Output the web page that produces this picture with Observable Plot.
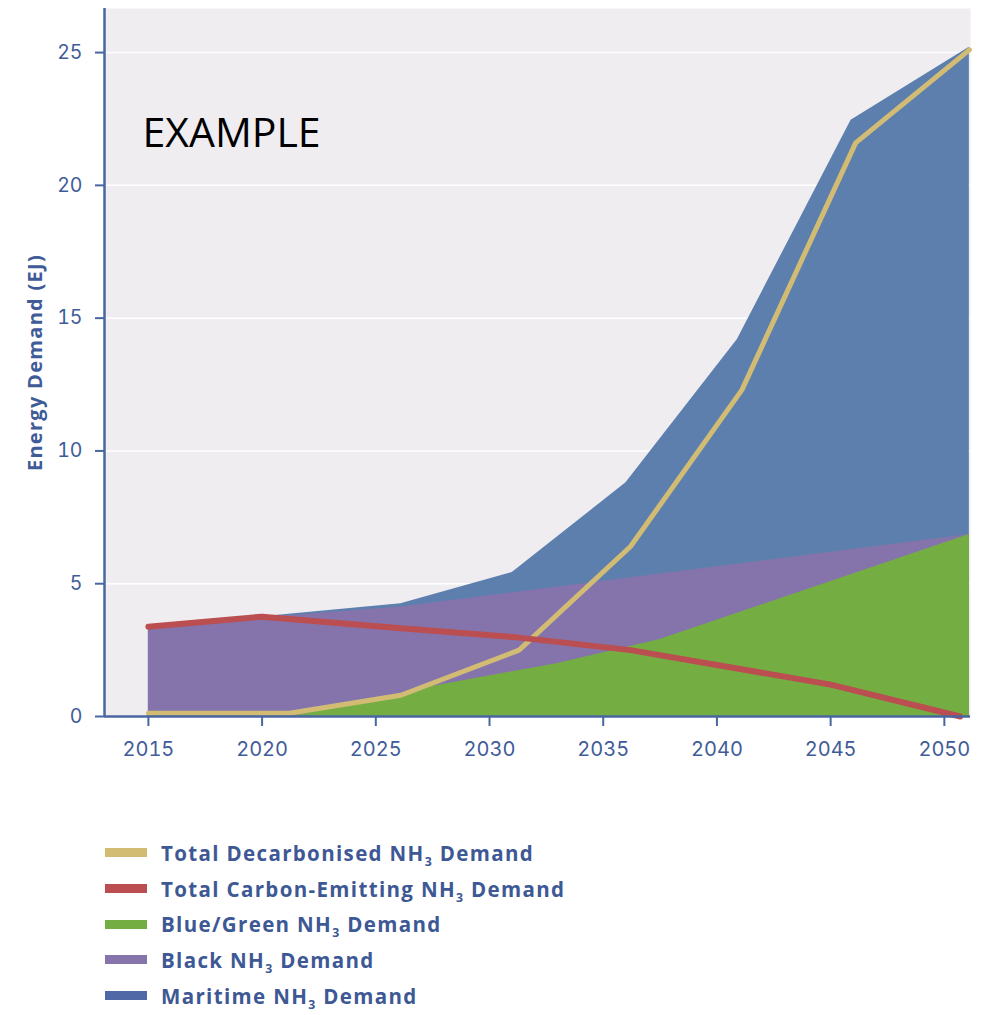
<!DOCTYPE html>
<html>
<head>
<meta charset="utf-8">
<script src="https://cdn.jsdelivr.net/npm/d3@7"></script>
<script src="https://cdn.jsdelivr.net/npm/@observablehq/plot@0.6"></script>
<style>
  html, body { margin: 0; padding: 0; background: #fff; }
  #chart svg { display: block; }
  #legend { margin-left: 105px; padding-top: 55px; font-family: "Open Sans", sans-serif; font-weight: 700; font-size: 20.5px; letter-spacing: 1.35px; color: #3d5894; }
  .row { display: flex; align-items: center; height: 35.7px; }
  .sw { width: 42px; height: 9px; margin-right: 14px; }
  sub { font-size: 0.6em; vertical-align: -0.4em; line-height: 0; }
</style>
</head>
<body>
<div id="chart"></div>
<div id="legend"></div>
<script>
// ---- data ----
const xTicks = [2015, 2020, 2025, 2030, 2035, 2040, 2045, 2050];
const yTicks = [0, 5, 10, 15, 20, 25];

// Top edge of the maritime (blue) area (EJ)
const maritimeYears = [2015, 2020, 2026.1, 2031.0, 2036.0, 2040.9, 2045.9, 2051.1];
const maritimeTop   = [3.3, 3.76, 4.25, 5.42, 8.8, 14.2, 22.45, 25.2];
// Top edge of the black (purple) area
const blackYears = [2015, 2020, 2026.1, 2051.1];
const blackTop   = [3.3, 3.72, 4.12, 6.85];
// Top edge of the blue/green (green) area
const greenYears = [2021.3, 2026.1, 2027.0, 2033.0, 2037.5, 2051.1];
const greenTop   = [0, 0.8, 1.05, 2.0, 2.9, 6.85];
// Lines
const decarbYears  = [2015, 2020, 2021.2, 2026.1, 2031.3, 2036.2, 2041.1, 2046.1, 2051.1];
const decarbValues = [0.12, 0.12, 0.12, 0.8, 2.5, 6.4, 12.3, 21.6, 25.1];
const carbonYears  = [2015, 2020, 2026.1, 2031.2, 2036.2, 2045.0, 2050.7];
const carbonValues = [3.38, 3.76, 3.32, 2.98, 2.5, 1.2, 0];

const legendItems = [
  {name: "Total Decarbonised", color: "#d2bc74"},
  {name: "Total Carbon-Emitting", color: "#bb4e50"},
  {name: "Blue/Green", color: "#74ae43"},
  {name: "Black", color: "#8675ab"},
  {name: "Maritime", color: "#5069a6"}
];

const pts = (xs, ys) => xs.map((x, i) => ({x, y: ys[i]}));

const axisColor = "#4a66a0";
const textColor = "#3f5c98";

const chart = Plot.plot({
  width: 996,
  height: 780,
  marginLeft: 104,
  marginRight: 26,
  marginTop: 8,
  marginBottom: 64,
  style: {fontFamily: "Inter, 'Open Sans', sans-serif", background: "#fff"},
  x: {domain: [2013.07, 2051.15]},
  y: {domain: [0, 26.66]},
  marks: [
    Plot.frame({fill: "#efedf0", stroke: "none"}),
    Plot.ruleY(yTicks.filter(d => d > 0), {stroke: "#ffffff", strokeWidth: 1.5}),
    Plot.areaY(pts(maritimeYears, maritimeTop), {x: "x", y: "y", fill: "#5d7fae"}),
    Plot.areaY(pts(blackYears, blackTop), {x: "x", y: "y", fill: "#8574ab"}),
    Plot.areaY(pts(greenYears, greenTop), {x: "x", y: "y", fill: "#74ae43"}),
    Plot.line(pts(decarbYears, decarbValues), {x: "x", y: "y", stroke: "#d2bc74", strokeWidth: 5, strokeLinejoin: "miter"}),
    Plot.line(pts(carbonYears, carbonValues), {x: "x", y: "y", stroke: "#bb4e50", strokeWidth: 6, strokeLinejoin: "miter"}),
    Plot.axisY({ticks: yTicks, tickSize: 9, tickPadding: 13, fontSize: 19.5, color: textColor, stroke: axisColor, strokeWidth: 2, label: null}),
    Plot.axisX({ticks: xTicks, tickSize: 10, tickPadding: 15, fontSize: 20, tickFormat: d => String(d), color: textColor, stroke: axisColor, strokeWidth: 2, label: null}),
    Plot.ruleX([2013.07], {stroke: axisColor, strokeWidth: 2.5}),
    Plot.ruleY([0], {stroke: axisColor, strokeWidth: 2.5}),
    Plot.text(["Energy Demand (EJ)"], {frameAnchor: "left", dx: -69, textAnchor: "middle", lineAnchor: "middle", rotate: -90, fontSize: 20, fontWeight: 700, fill: textColor, fontFamily: "'Open Sans', sans-serif"}),
    Plot.text(["EXAMPLE"], {frameAnchor: "top-left", dx: 38, dy: 125, textAnchor: "start", lineAnchor: "middle", fontSize: 41, fill: "#000", fontFamily: "'Open Sans', sans-serif"})
  ]
});
document.getElementById("chart").appendChild(chart);
// widen the y-axis title slightly to match the reference's letter spacing
for (const t of chart.querySelectorAll("text")) {
  if (t.textContent === "Energy Demand (EJ)") t.style.letterSpacing = "1.3px";
}

const legend = document.getElementById("legend");
for (const it of legendItems) {
  const row = document.createElement("div");
  row.className = "row";
  row.innerHTML = `<div class="sw" style="background:${it.color}"></div><span>${it.name} NH<sub>3</sub> Demand</span>`;
  legend.appendChild(row);
}
</script>
</body>
</html>
